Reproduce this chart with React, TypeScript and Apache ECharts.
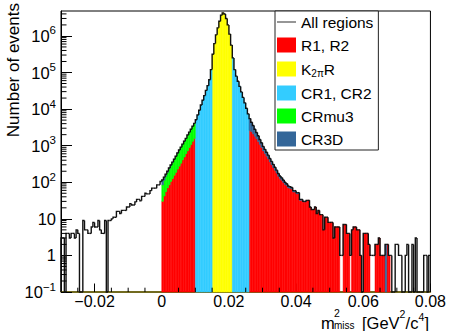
import React, { useEffect, useRef } from 'react';
import * as echarts from 'echarts';

const FONT = "'Liberation Sans', Arial, Helvetica, sans-serif";

// Histogram binning (m2_miss, GeV^2/c^4)
const X_MIN = -0.03;
const X_MAX = 0.08;
const BIN_WIDTH = 0.0005;
const Y_MIN = 0.1;
const Y_MAX = 4.8e6;

// "All regions": 220 bins from -0.03 to 0.08
const ALL_REGIONS = [
  // -0.030 .. 0.000
  3, 3, 0, 4, 4, 3, 4, 4, 3, 5,
  4, 0, 0, 9, 5, 5, 4, 4, 6, 8,
  6, 6, 9, 5, 4, 4, 9, 0, 9, 9,
  10, 11, 11, 16, 16, 14, 17, 17, 17, 21,
  21, 26, 24, 24, 29, 34, 34, 31, 41, 41,
  50, 48, 48, 59, 69, 69, 69, 85, 85, 105,
  // 0.000 .. 0.080
  115, 138, 166, 200, 245, 295, 355, 427, 513, 631,
  759, 912, 1100, 1320, 1580, 1950, 2340, 2820, 3390, 4070,
  5130, 6920, 9330, 12900, 17400, 23400, 32400, 43700, 63100, 120000,
  316000, 617000, 1070000, 1660000, 2510000, 3700000, 4270000, 3980000, 3000000, 2000000,
  1120000, 562000, 251000, 120000, 79400, 57500, 41700, 29500, 20900, 14800,
  10500, 7410, 5500, 4370, 3550, 2820, 2290, 1860, 1480, 1200,
  955, 794, 661, 550, 447, 372, 309, 257, 214, 174,
  148, 132, 115, 100, 91, 79, 76, 72, 59, 59,
  52, 52, 34, 34, 30, 30, 32, 32, 21, 18,
  18, 21, 14, 17, 13, 13, 5, 11, 11, 8,
  8, 8, 3, 6, 6, 6, 1, 1, 7, 7,
  4, 4, 1, 5, 6, 6, 5, 5, 1, 0,
  4, 4, 4, 2, 1, 1, 1, 2, 2, 3,
  1, 1, 1, 2, 2, 1, 1, 0, 0, 2,
  2, 1, 1, 0, 0, 1, 2, 0, 0, 2,
  0, 3, 0, 0, 0, 0, 1, 1, 0, 1,
];

// R1 (0 .. 0.010) and R2 (0.026 .. 0.068)
const R1_START = 0.0;
const R1_VALUES = [30, 42, 55, 70, 85, 105, 126, 155, 186, 229, 275, 331, 407, 490, 603, 724, 891, 1070, 1320, 1580];
const R2_START = 0.026;
const R2_VALUES = [
  2600, 2400, 2100, 1800, 1550, 1300, 1080, 890, 720, 610,
  515, 435, 360, 302, 253, 212, 178, 146, 125, 113,
  99, 87, 80, 70, 68, 65, 54, 54, 48, 49,
  32, 32, 29, 29, 32, 32, 21, 18, 18, 21,
  14, 17, 13, 13, 5, 11, 11, 8, 8, 8,
  3, 6, 6, 6, 0, 0, 7, 7, 4, 4,
  0, 5, 6, 6, 5, 5, 1, 0, 4, 4,
  4, 2, 0, 0, 0, 2, 2, 3, 1, 1,
  1, 0, 2, 1,
];
// K2pi region (0.015 .. 0.021)
const K2PI_START = 0.015;
const K2PI_VALUES = [316000, 617000, 1070000, 1660000, 2510000, 3700000, 4270000, 3980000, 3000000, 2000000, 1120000, 562000];
// Control regions CR1 (0.010 .. 0.015), CR2 (0.021 .. 0.026)
const CR1_START = 0.01;
const CR1_VALUES = [5130, 6920, 9330, 12900, 17400, 23400, 32400, 43700, 63100, 120000];
const CR2_START = 0.021;
const CR2_VALUES = [251000, 120000, 79400, 57500, 41700, 29500, 20900, 14800, 10500, 7410];
// CRmu3 (stacked on R1)
const CRMU3_START = 0.0;
const CRMU3_VALUES = [55, 71, 91, 115, 148, 180, 221, 266, 322, 398, 484, 581, 693, 830, 977, 1226, 1449, 1750, 2070, 2490];
// CR3D (stacked on top)
const CR3D_LOW_START = 0.0;
const CR3D_LOW_VALUES = [30, 25, 20, 15, 12, 10, 8, 6, 5, 4];
const CR3D_HIGH_START = 0.026;
const CR3D_HIGH_VALUES = [
  2900, 1970, 1450, 1020, 740, 560, 400, 310, 235, 184,
  146, 115, 87, 70, 56, 45, 36, 28, 23, 19,
  16, 13, 11, 9, 8, 7, 5, 5, 4, 3,
  2, 2, 1, 1, 0, 0, 0, 0, 0, 0,
  0, 0, 0, 0, 0, 0, 0, 0, 0, 0,
  0, 0, 0, 0, 0, 0, 0, 0, 0, 0,
  0, 0, 0, 0, 0, 0, 0, 0, 0, 0,
  0, 0, 0, 0, 0, 0, 0, 0, 0, 0,
  0, 2, 0, 0,
];

// Axis decorations
const X_MINOR_TICKS = [-0.025, -0.015, -0.01, -0.005, 0.005, 0.01, 0.015, 0.025, 0.03, 0.035, 0.045, 0.05, 0.055, 0.065, 0.07, 0.075];
const Y_DECADES = [0.1, 1, 10, 100, 1000, 1e4, 1e5, 1e6];
const Y_MINOR_MULT = [2, 3, 4, 5, 6, 7, 8, 9];

const LAYERS = [
  { name: 'R1, R2', color: '#ff0000', parts: [[R1_START, R1_VALUES], [R2_START, R2_VALUES]] },
  { name: 'K2πR', color: '#ffff00', parts: [[K2PI_START, K2PI_VALUES]] },
  { name: 'CR1, CR2', color: '#33ccff', parts: [[CR1_START, CR1_VALUES], [CR2_START, CR2_VALUES]] },
  { name: 'CRmu3', color: '#00ff00', parts: [[CRMU3_START, CRMU3_VALUES]] },
  { name: 'CR3D', color: '#336699', parts: [[CR3D_LOW_START, CR3D_LOW_VALUES], [CR3D_HIGH_START, CR3D_HIGH_VALUES]] },
] as { name: string; color: string; parts: [number, number[]][] }[];

function buildStacks() {
  const acc = new Map<number, number>();
  return LAYERS.map((layer) => {
    const bins: number[][] = [];
    layer.parts.forEach(([start, values]) => {
      const g0 = Math.round((start - X_MIN) / BIN_WIDTH);
      values.forEach((v, k) => {
        const g = g0 + k;
        const base = acc.get(g) || 0;
        if (v > 0) {
          const lo = X_MIN + g * BIN_WIDTH;
          bins.push([lo, lo + BIN_WIDTH, Math.max(base, Y_MIN), base + v]);
          acc.set(g, base + v);
        }
      });
    });
    return { ...layer, bins };
  });
}

const txt = (text: string, x: number, y: number, size: number) => ({
  type: 'text', x, y,
  style: { text, fontFamily: FONT, fontSize: size, fill: '#000', align: 'left', verticalAlign: 'middle' },
});

export default function App() {
  const ref = useRef<HTMLDivElement>(null);
  useEffect(() => {
    if (!ref.current) return;
    const chart = echarts.init(ref.current, undefined, { renderer: 'svg' });
    const stacks = buildStacks();

    const outline = ALL_REGIONS.map((v, g) => {
      const lo = X_MIN + g * BIN_WIDTH;
      const prev = g > 0 ? ALL_REGIONS[g - 1] : 0;
      return [lo, lo + BIN_WIDTH, Math.max(v, Y_MIN), Math.max(prev, Y_MIN)];
    });

    const yMinor: number[][] = [];
    Y_DECADES.forEach((d) => Y_MINOR_MULT.forEach((m) => {
      if (d * m < Y_MAX) yMinor.push([X_MIN, d * m]);
    }));
    const xMinor = X_MINOR_TICKS.map((v) => [v, Y_MIN]);

    const fillSeries = stacks.map((s) => ({
      type: 'custom',
      name: s.name,
      silent: true,
      z: 2,
      itemStyle: { color: s.color },
      encode: { x: [0, 1], y: [2, 3] },
      data: s.bins,
      renderItem: (params: any, api: any) => {
        const p1 = api.coord([api.value(0), api.value(3)]);
        const p2 = api.coord([api.value(1), api.value(2)]);
        return {
          type: 'rect',
          shape: { x: p1[0], y: p1[1], width: p2[0] - p1[0], height: p2[1] - p1[1] },
          style: { fill: s.color, stroke: s.color, lineWidth: 0.5 },
        };
      },
    }));

    const option: any = {
      animation: false,
      backgroundColor: '#ffffff',
      grid: { left: 61, right: 17, top: 11, bottom: 39, show: true, borderColor: '#000', borderWidth: 1, backgroundColor: 'transparent' },
      xAxis: {
        type: 'value', min: X_MIN, max: X_MAX,
        axisLine: { show: true, onZero: false, lineStyle: { color: '#6e6400', width: 1.5 } },
        axisTick: { show: true, inside: true, length: 8.5, lineStyle: { color: '#000' } },
        axisLabel: {
          showMinLabel: false, margin: 2, color: '#000', fontFamily: FONT, fontSize: 16, lineHeight: 15,
          formatter: (v: number) => (Math.abs(v) < 1e-9 ? '0' : v.toFixed(2).replace('-', '\u2212')),
        },
        splitLine: { show: false },
      },
      yAxis: {
        type: 'log', logBase: 10, min: Y_MIN, max: Y_MAX,
        axisLine: { show: true, onZero: false, lineStyle: { color: '#000' } },
        axisTick: { show: true, inside: true, length: 11, lineStyle: { color: '#000' } },
        axisLabel: {
          showMaxLabel: false, margin: 5, color: '#000', fontFamily: FONT, fontSize: 16.5,
          formatter: (v: number) => {
            const e = Math.log10(v);
            const r = Math.round(e);
            if (Math.abs(e - r) > 1e-6) return '';
            if (r === 0) return '1';
            if (r === 1) return '10';
            return '10{sup|' + (r < 0 ? '\u2212' + -r : String(r)) + '}';
          },
          rich: { sup: { fontSize: 11.5, fontFamily: FONT, color: '#000', lineHeight: 17, padding: [0, 0, 11, 0] } },
        },
        splitLine: { show: false },
      },
      legend: {
        orient: 'vertical', left: 275, top: 11,
        itemWidth: 19, itemHeight: 15, itemGap: 7,
        padding: [3, 5, 3, 2],
        borderColor: '#222', borderWidth: 1, backgroundColor: '#fff',
        selectedMode: false,
        textStyle: {
          fontFamily: FONT, fontSize: 15.5, color: '#000', lineHeight: 15,
          rich: { sub: { fontFamily: FONT, fontSize: 10, color: '#000', lineHeight: 15, padding: [8, 0, 0, 0] } },
        },
        formatter: (n: string) => (n === 'K2πR' ? 'K{sub|2π}R' : n),
        data: [
          { name: 'All regions', icon: 'path://M0,0H20V1.3H0Z', itemStyle: { color: '#555' } },
          ...LAYERS.map((l) => ({ name: l.name, icon: 'rect', itemStyle: { color: l.color } })),
        ],
      },
      graphic: [
        { type: 'text', x: 13, y: 3, rotation: Math.PI / 2, style: { text: 'Number of events', fontFamily: FONT, fontSize: 17, fill: '#000', align: 'right', verticalAlign: 'middle' } },
        txt('m', 321, 322.5, 16.5),
        txt('2', 334, 313, 10.5),
        txt('miss', 334, 325.5, 10),
        txt('[GeV', 362, 322.5, 16.5),
        txt('2', 399.6, 313.5, 10.5),
        txt('/c', 405.6, 322.5, 16.5),
        txt('4', 418.4, 317, 10.5),
        txt(']', 424.6, 322.5, 16.5),
      ],
      series: [
        ...fillSeries,
        {
          type: 'custom', name: 'All regions', silent: true, z: 3,
          itemStyle: { color: '#555' },
          encode: { x: [0, 1], y: [2, 3] },
          data: outline,
          renderItem: (params: any, api: any) => {
            const lo = api.value(0), hi = api.value(1), v = api.value(2), pv = api.value(3);
            const a = api.coord([lo, pv]);
            const b = api.coord([lo, v]);
            const c = api.coord([hi, v]);
            return { type: 'polyline', shape: { points: [a, b, c] }, style: { stroke: '#111', lineWidth: 1.4, fill: 'none' } };
          },
        },
        {
          type: 'custom', name: 'yMinor', silent: true, z: 4, clip: false,
          encode: { x: 0, y: 1 },
          data: yMinor,
          renderItem: (params: any, api: any) => {
            const p = api.coord([api.value(0), api.value(1)]);
            return { type: 'line', shape: { x1: p[0], y1: p[1], x2: p[0] + 5.5, y2: p[1] }, style: { stroke: '#000', lineWidth: 1 } };
          },
        },
        {
          type: 'custom', name: 'xMinor', silent: true, z: 4, clip: false,
          encode: { x: 0, y: 1 },
          data: xMinor,
          renderItem: (params: any, api: any) => {
            const p = api.coord([api.value(0), api.value(1)]);
            return { type: 'line', shape: { x1: p[0], y1: p[1], x2: p[0], y2: p[1] - 4.3 }, style: { stroke: '#000', lineWidth: 1 } };
          },
        },
      ],
    };
    chart.setOption(option);
    return () => chart.dispose();
  }, []);
  return <div ref={ref} style={{ position: 'fixed', left: 0, top: 0, width: 449, height: 331, background: '#fff' }} />;
}
